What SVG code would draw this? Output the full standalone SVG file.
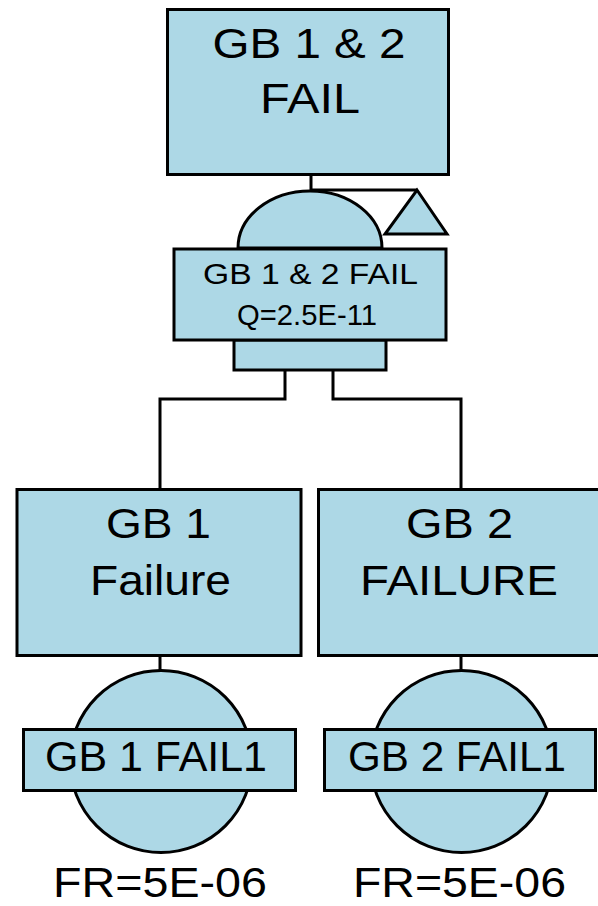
<svg xmlns="http://www.w3.org/2000/svg" width="598" height="906" viewBox="0 0 598 906">
<style>
.s{fill:#ADD8E6;stroke:#000;stroke-width:3}
.c{fill:none;stroke:#000;stroke-width:3}
text{font-family:"Liberation Sans",Arial,sans-serif;fill:#000;text-anchor:middle}
.b{font-size:43px}
.m{font-size:29px}
</style>
<rect width="598" height="906" fill="#fff"/>
<g id="connectors">
<path class="c" d="M311 175V190H417"/>
<path class="c" d="M285 370V399H160V489"/>
<path class="c" d="M333 370V399H461V489"/>
<path class="c" d="M160 656V670"/>
<path class="c" d="M461 656V670"/>
</g>
<g id="top">
<rect class="s" x="167.5" y="9.5" width="281" height="165"/>
<text class="b" x="309" y="58" textLength="193" lengthAdjust="spacingAndGlyphs">GB 1 &amp; 2</text>
<text class="b" x="310" y="113" textLength="100" lengthAdjust="spacingAndGlyphs">FAIL</text>
</g>
<g id="transfer">
<path class="s" d="M417 190L447 234H385Z"/>
</g>
<g id="gate">
<path class="s" d="M238 248A72 57 0 0 1 382 248Z"/>
<rect class="s" x="234" y="340" width="152" height="30"/>
<rect class="s" x="174" y="249" width="272" height="91"/>
<text class="m" x="310.5" y="284" textLength="215" lengthAdjust="spacingAndGlyphs">GB 1 &amp; 2 FAIL</text>
<text class="m" x="307" y="325" font-size="27" textLength="140" lengthAdjust="spacingAndGlyphs">Q=2.5E-11</text>
</g>
<g id="gb1">
<rect class="s" x="17" y="489.5" width="284" height="166"/>
<text class="b" x="158.5" y="538" textLength="105" lengthAdjust="spacingAndGlyphs">GB 1</text>
<text class="b" x="160.5" y="595" textLength="141" lengthAdjust="spacingAndGlyphs">Failure</text>
</g>
<g id="gb2">
<rect class="s" x="318.5" y="489.5" width="284" height="166"/>
<text class="b" x="459.5" y="538" textLength="107" lengthAdjust="spacingAndGlyphs">GB 2</text>
<text class="b" x="459" y="595" textLength="198" lengthAdjust="spacingAndGlyphs">FAILURE</text>
</g>
<g id="gb1fail1">
<circle class="s" cx="161" cy="761.5" r="91"/>
<rect class="s" x="23.5" y="729.5" width="272" height="61"/>
<text class="b" x="156" y="771" textLength="222" lengthAdjust="spacingAndGlyphs">GB 1 FAIL1</text>
<text class="b" x="160" y="897" textLength="214" lengthAdjust="spacingAndGlyphs">FR=5E-06</text>
</g>
<g id="gb2fail1">
<circle class="s" cx="461.5" cy="761.5" r="91"/>
<rect class="s" x="324.5" y="729.5" width="271" height="61"/>
<text class="b" x="457" y="771" textLength="218" lengthAdjust="spacingAndGlyphs">GB 2 FAIL1</text>
<text class="b" x="459.5" y="897" textLength="213" lengthAdjust="spacingAndGlyphs">FR=5E-06</text>
</g>
</svg>
